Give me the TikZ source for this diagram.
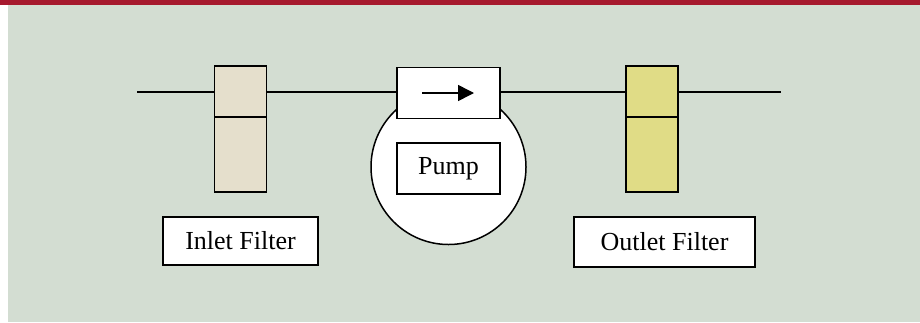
\documentclass[tikz,border=0pt]{standalone}
\usepackage{fontspec}
\setmainfont{Liberation Serif}
\usetikzlibrary{arrows.meta,calc}
\definecolor{bannerred}{HTML}{A6192E}
\definecolor{panelgreen}{HTML}{D3DDD2}
\definecolor{inletfill}{HTML}{E5DFCC}
\definecolor{outletfill}{HTML}{E0DC86}
\begin{document}
\begin{tikzpicture}[x=1pt,y=-1pt,
  every node/.style={inner sep=0pt,outer sep=0pt},
  pipe/.style={line width=1.5pt},
  filterbody/.style={draw,line width=1.5pt,minimum width=52pt,minimum height=126pt},
  labelbox/.style={draw,fill=white,line width=1.5pt,font=\fontsize{26}{30}\selectfont},
  pumpbox/.style={draw,fill=white,line width=1.5pt,minimum width=103pt,minimum height=51pt,font=\fontsize{26}{30}\selectfont}]
  \useasboundingbox (0,0) rectangle (920,322);
  % panel and banner
  \fill[white] (0,0) rectangle (920,322);
  \fill[panelgreen] (8,5) rectangle (920,322);
  \fill[bannerred] (0,0) rectangle (920,5);

  % pipe running through all components
  \coordinate (pin) at (137,92);
  \coordinate (pout) at (781,92);
  \draw[pipe] (pin) -- (pout);

  % inlet filter
  \node[filterbody,fill=inletfill] (inlet) at (240.5,129) {};
  \draw[pipe] ($(inlet.north west)+(0,51)$) -- ($(inlet.north east)+(0,51)$);
  \node[labelbox,minimum width=155pt,minimum height=48pt] (inletlbl) at (240.5,241) {Inlet Filter};

  % pump housing
  \node[draw,fill=white,circle,line width=1.5pt,minimum size=155pt] (housing) at (448.5,167) {};
  \node[pumpbox] (flowbox) at (448.5,93) {};
  \coordinate (flowstart) at (422,93);
  \coordinate (flowend) at (474,93);
  \draw[line width=1.5pt,-{Triangle[length=16pt,width=16pt]}] (flowstart) -- (flowend);
  \node[pumpbox] (pump) at (448.5,168.5) {Pump};

  % outlet filter
  \node[filterbody,fill=outletfill] (outlet) at (652,129) {};
  \draw[pipe] ($(outlet.north west)+(0,51)$) -- ($(outlet.north east)+(0,51)$);
  \node[labelbox,minimum width=181pt,minimum height=50pt] (outletlbl) at (664.5,242) {Outlet Filter};
\end{tikzpicture}
\end{document}
